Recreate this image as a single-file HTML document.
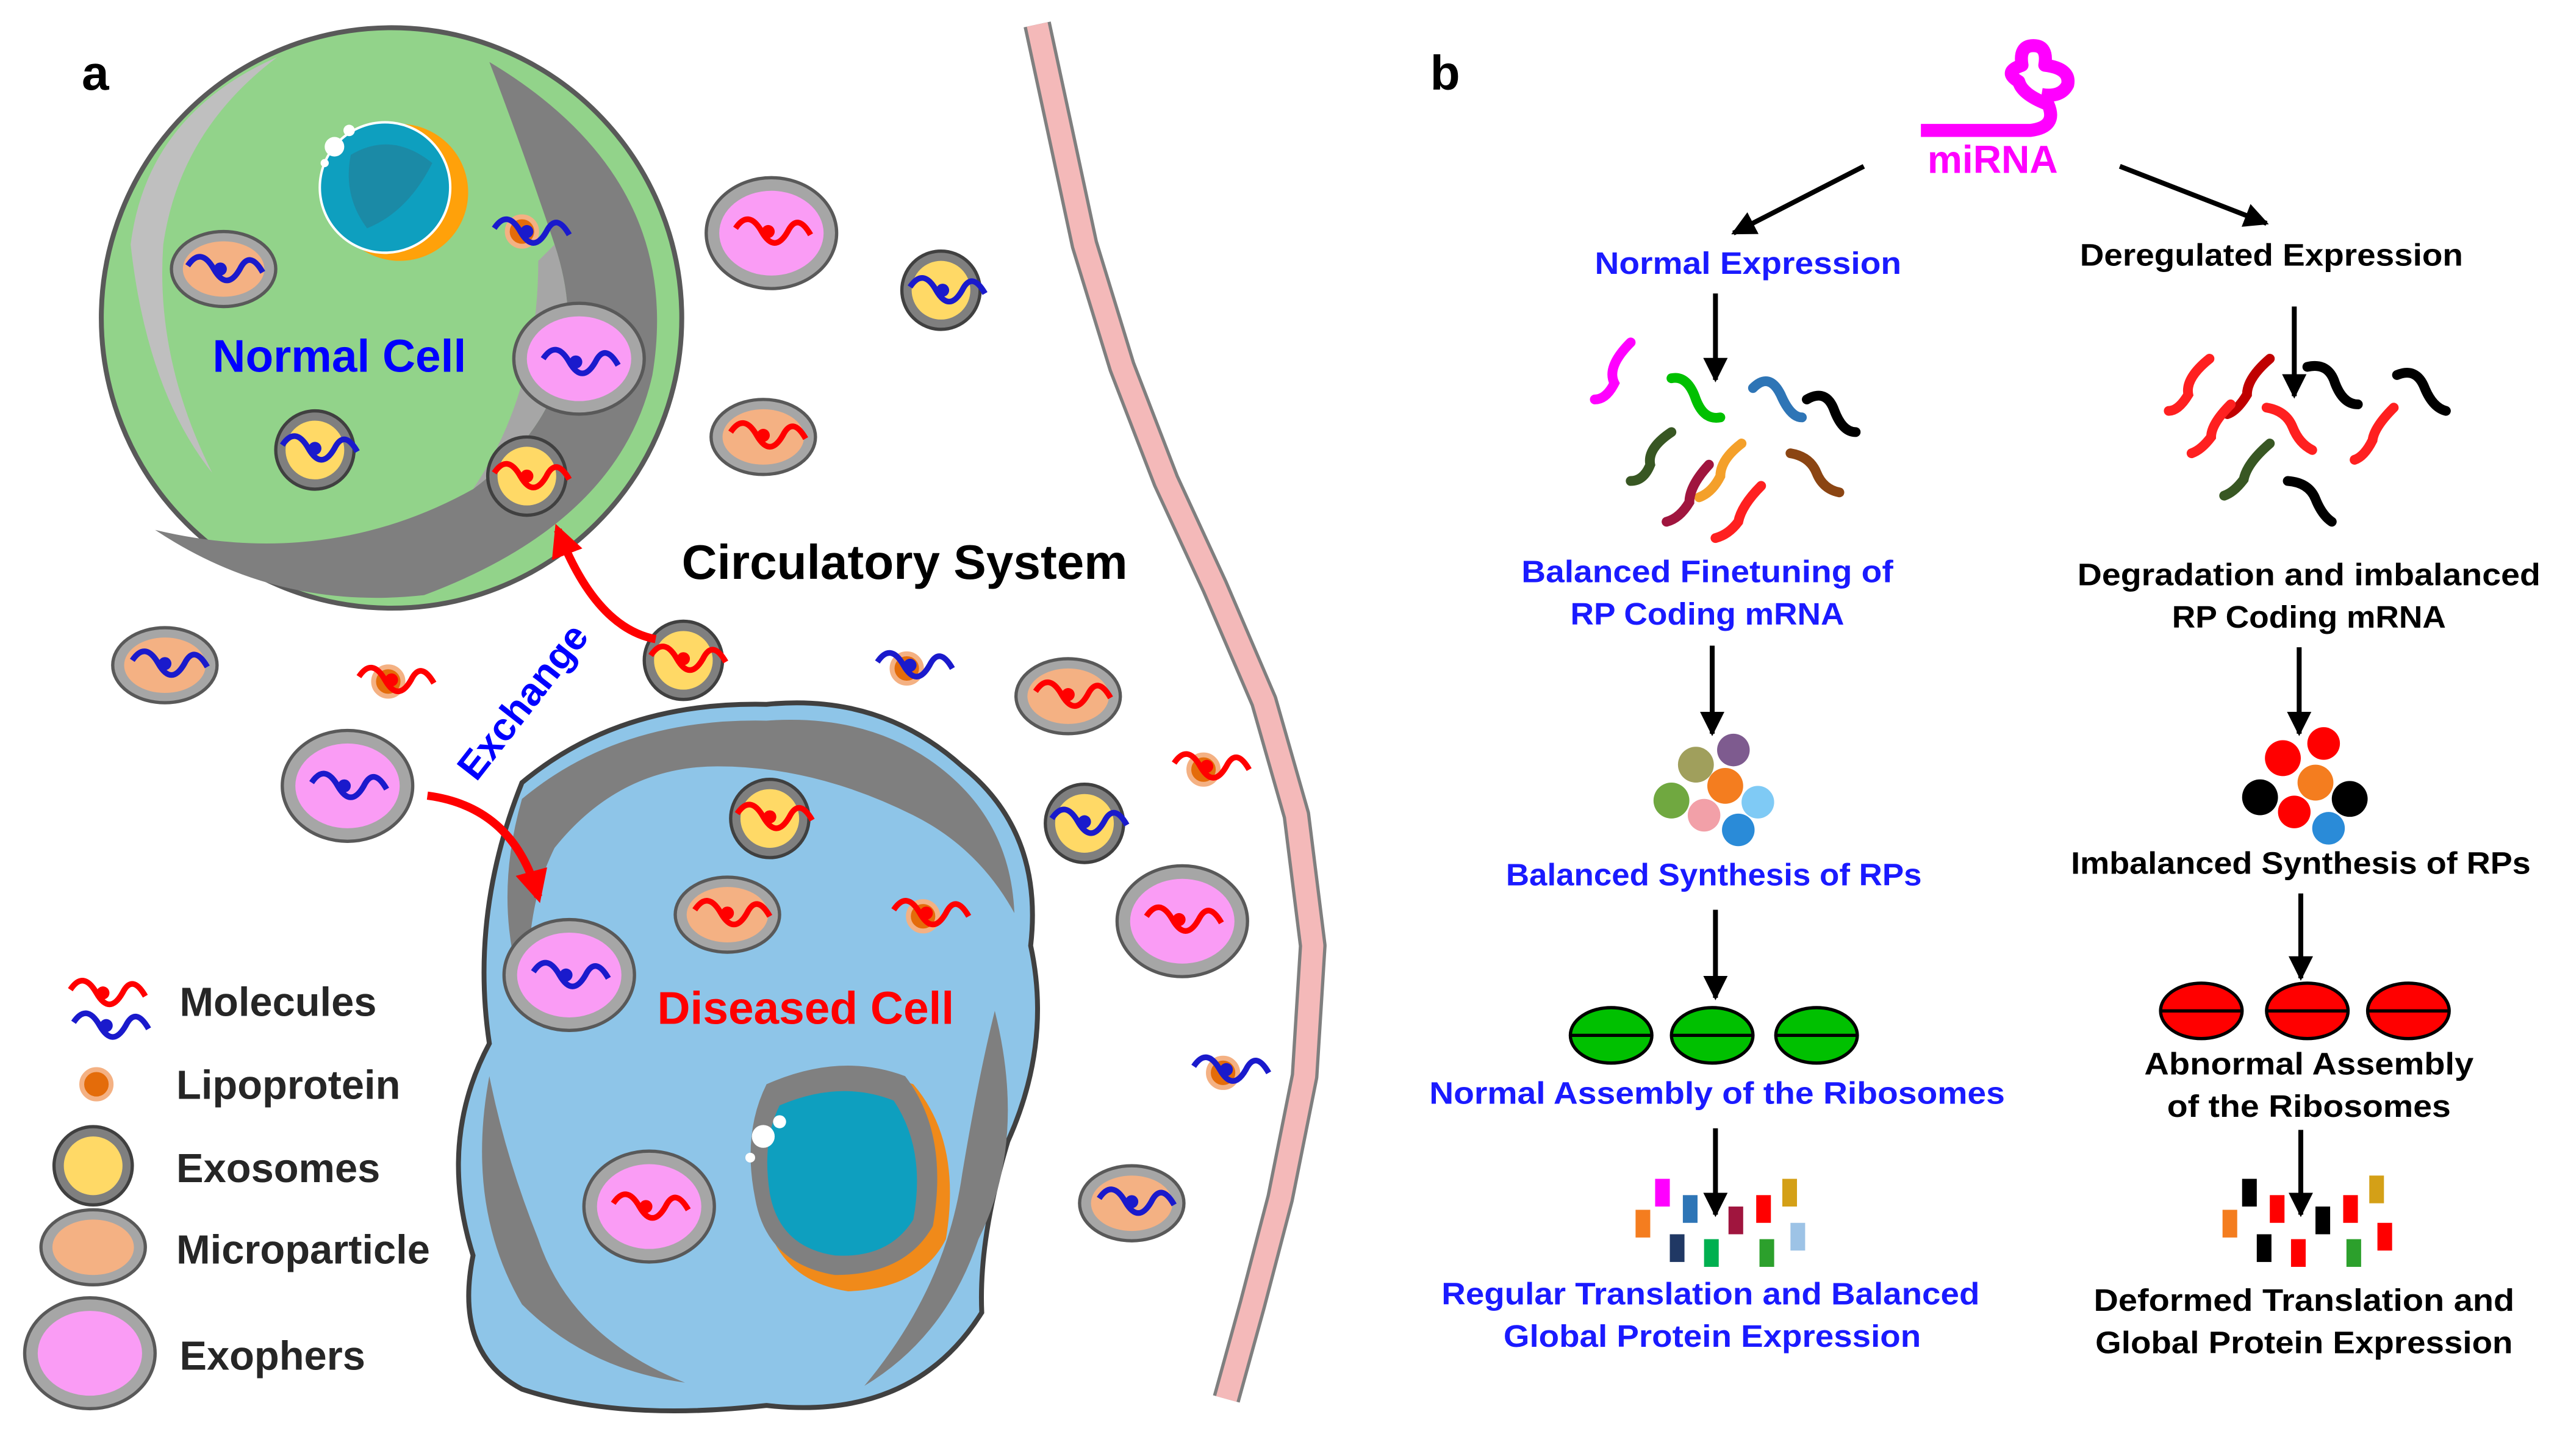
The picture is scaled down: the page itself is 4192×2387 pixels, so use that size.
<!DOCTYPE html>
<html><head><meta charset="utf-8"><style>
html,body{margin:0;padding:0;background:#fff}
svg{display:block}
text{font-family:"Liberation Sans",sans-serif;font-weight:bold}
</style></head><body>
<svg width="4192" height="2387" viewBox="0 0 1568 893" xmlns="http://www.w3.org/2000/svg">
<defs>
<marker id="ah" viewBox="0 0 10 10" refX="9" refY="5" markerWidth="5" markerHeight="5" orient="auto"><path d="M0,0 L10,5 L0,10 Z" fill="#000"/></marker>
<marker id="ahr" viewBox="0 0 10 10" refX="8" refY="5" markerWidth="4" markerHeight="4" orient="auto"><path d="M0,0 L10,5 L0,10 Z" fill="#ff0000"/></marker>
<g id="molB"><path d="M-22,0 Q-14,-12 -6,2 Q2,16 10,2 Q16,-10 24,4" fill="none" stroke="#1a1acc" stroke-width="3.5"/><circle cx="-2" cy="2" r="4" fill="#1a1acc"/></g>
<g id="molR"><path d="M-22,0 Q-14,-12 -6,2 Q2,16 10,2 Q16,-10 24,4" fill="none" stroke="#f00" stroke-width="3.5"/><circle cx="-2" cy="2" r="4" fill="#f00"/></g>
<g id="lip"><circle r="9" fill="#e46c0a" stroke="#f4b183" stroke-width="3"/></g>
<g id="exoph"><ellipse rx="40" ry="34" fill="#a6a6a6" stroke="#595959" stroke-width="2"/><ellipse rx="32" ry="26" fill="#fa9cf5"/></g>
<g id="micro"><ellipse rx="32" ry="23" fill="#a6a6a6" stroke="#595959" stroke-width="2"/><ellipse rx="25" ry="17" fill="#f4b183"/></g>
<g id="exos"><circle r="24" fill="#7f7f7f" stroke="#404040" stroke-width="2"/><circle r="18" fill="#ffd966"/></g>
</defs>

<text x="50" y="55" font-size="30" fill="#000">a</text>

<path d="M636,15 L650,80 L665,150 L688,225 L715,295 L745,360 L775,430 L795,500 L805,580 L800,660 L785,735 L768,800 L752,858" fill="none" stroke="#7f7f7f" stroke-width="17" stroke-linejoin="round"/>
<path d="M636,15 L650,80 L665,150 L688,225 L715,295 L745,360 L775,430 L795,500 L805,580 L800,660 L785,735 L768,800 L752,858" fill="none" stroke="#f4b9b9" stroke-width="13" stroke-linejoin="round"/>

<circle cx="240" cy="195" r="178" fill="#92d38a" stroke="#595959" stroke-width="3"/>
<path d="M80,150 Q90,70 170,35 Q110,80 100,150 Q95,220 130,290 Q90,240 80,150Z" fill="#bfbfbf"/>
<path d="M300,38 Q420,110 400,230 Q380,320 260,365 Q170,375 95,325 Q200,350 290,300 Q370,240 340,150 Q320,90 300,38Z" fill="#7f7f7f"/>
<path d="M340,150 Q370,240 290,300 Q330,240 330,160Z" fill="#a6a6a6"/>
<circle cx="245" cy="118" r="42" fill="#ffa10a"/>
<circle cx="236" cy="115" r="40" fill="#0e9fbf" stroke="#fff" stroke-width="1.5"/>
<path d="M215,95 Q240,80 265,100 Q250,130 225,140 Q210,120 215,95Z" fill="#1b8aa6"/>
<circle cx="205" cy="90" r="6" fill="#fff"/><circle cx="214" cy="80" r="3.5" fill="#fff"/><circle cx="199" cy="100" r="2.5" fill="#fff"/>
<text x="208" y="228" font-size="28" fill="#0000ff" text-anchor="middle">Normal Cell</text>
<use href="#micro" x="137" y="165"/><use href="#molB" x="137" y="163"/>
<use href="#lip" x="320" y="142"/><use href="#molB" x="325" y="140"/>
<use href="#exoph" x="355" y="220"/><use href="#molB" x="355" y="220"/>
<use href="#exos" x="193" y="276"/><use href="#molB" x="195" y="273"/>
<use href="#exos" x="323" y="292"/><use href="#molR" x="325" y="290"/>

<use href="#exoph" x="473" y="143"/><use href="#molR" x="473" y="140"/>
<use href="#exos" x="577" y="178"/><use href="#molB" x="580" y="176"/>
<use href="#micro" x="468" y="268"/><use href="#molR" x="470" y="265"/>
<use href="#micro" x="101" y="408"/><use href="#molB" x="103" y="405"/>
<use href="#lip" x="238" y="418"/><use href="#molR" x="242" y="415"/>
<use href="#exos" x="419" y="405"/><use href="#molR" x="421" y="402"/>
<use href="#lip" x="556" y="410"/><use href="#molB" x="560" y="406"/>
<use href="#micro" x="655" y="427"/><use href="#molR" x="657" y="424"/>
<use href="#lip" x="738" y="472"/><use href="#molR" x="742" y="468"/>
<use href="#exoph" x="213" y="482"/><use href="#molB" x="213" y="480"/>
<use href="#exos" x="665" y="505"/><use href="#molB" x="667" y="502"/>
<use href="#exoph" x="725" y="565"/><use href="#molR" x="725" y="562"/>
<use href="#lip" x="750" y="658"/><use href="#molB" x="754" y="654"/>
<use href="#micro" x="694" y="738"/><use href="#molB" x="696" y="735"/>

<text x="418" y="355" font-size="30" fill="#000">Circulatory System</text>

<path d="M320,480 Q380,430 470,432 Q540,425 590,470 Q640,510 632,580 Q645,640 618,700 Q600,760 602,805 Q560,872 470,862 Q380,872 320,852 Q278,830 290,770 Q268,700 300,640 Q288,560 320,480Z" fill="#8ec5e8" stroke="#404040" stroke-width="3"/>
<path d="M320,490 Q380,440 470,442 Q540,437 585,478 Q620,510 622,560 Q600,520 560,500 Q500,470 440,470 Q380,470 340,520 Q320,560 325,620 Q300,560 320,490Z" fill="#7f7f7f"/>
<path d="M610,620 Q630,700 600,760 Q580,820 530,850 Q580,790 590,720 Q600,660 610,620Z" fill="#7f7f7f"/>
<path d="M300,660 Q285,740 320,800 Q360,840 420,848 Q350,820 330,760 Q310,710 300,660Z" fill="#7f7f7f"/>
<path d="M475,670 Q520,650 560,665 Q590,700 580,760 Q565,790 520,792 Q475,785 468,740 Q460,700 475,670Z" fill="#f08a1a"/>
<path d="M470,665 Q515,645 555,660 Q582,695 572,752 Q555,782 512,782 Q470,775 463,735 Q455,695 470,665Z" fill="#808080"/>
<path d="M478,678 Q515,662 548,675 Q568,705 560,748 Q545,772 512,770 Q478,765 472,732 Q467,700 478,678Z" fill="#0e9fbf"/>
<circle cx="468" cy="697" r="7" fill="#fff"/><circle cx="478" cy="688" r="4" fill="#fff"/><circle cx="460" cy="710" r="3" fill="#fff"/>
<text x="494" y="628" font-size="28" fill="#ff0000" text-anchor="middle">Diseased Cell</text>
<use href="#exos" x="472" y="502"/><use href="#molR" x="474" y="499"/>
<use href="#micro" x="446" y="561"/><use href="#molR" x="448" y="558"/>
<use href="#lip" x="566" y="562"/><use href="#molR" x="570" y="558"/>
<use href="#exoph" x="349" y="598"/><use href="#molB" x="349" y="596"/>
<use href="#exoph" x="398" y="740"/><use href="#molR" x="398" y="738"/>

<path d="M402,392 Q365,385 342,325" fill="none" stroke="#ff0000" stroke-width="5" marker-end="url(#ahr)"/>
<path d="M262,488 Q315,495 330,550" fill="none" stroke="#ff0000" stroke-width="5" marker-end="url(#ahr)"/>
<text transform="translate(292,480) rotate(-52)" font-size="24" fill="#0000ff">Exchange</text>

<use href="#molR" x="65" y="607"/><use href="#molB" x="67" y="627"/>
<use href="#lip" x="59" y="665"/>
<use href="#exos" x="57" y="715"/>
<use href="#micro" x="57" y="765"/>
<use href="#exoph" x="55" y="830"/>
<g font-size="25" fill="#262626">
<text x="110" y="623">Molecules</text>
<text x="108" y="674">Lipoprotein</text>
<text x="108" y="725">Exosomes</text>
<text x="108" y="775">Microparticle</text>
<text x="110" y="840">Exophers</text>
</g>

<text x="877" y="55" font-size="30" fill="#000">b</text>
<path d="M1178,80 L1245,80 Q1262,78 1256,64 Q1240,58 1238,50 Q1228,44 1240,40 Q1238,28 1247,28 Q1256,28 1254,40 Q1270,42 1268,52 Q1264,60 1252,58" fill="none" stroke="#ff00ff" stroke-width="8" stroke-linejoin="round"/>
<text x="1222" y="106" font-size="24" fill="#ff00ff" text-anchor="middle">miRNA</text>
<g stroke="#000" stroke-width="3" marker-end="url(#ah)">
<line x1="1143" y1="102" x2="1063" y2="143"/>
<line x1="1300" y1="102" x2="1390" y2="137"/>
<line x1="1052" y1="180" x2="1052" y2="233"/>
<line x1="1050" y1="396" x2="1050" y2="450"/>
<line x1="1052" y1="558" x2="1052" y2="612"/>
<line x1="1052" y1="692" x2="1052" y2="745"/>
<line x1="1407" y1="188" x2="1407" y2="243"/>
<line x1="1410" y1="397" x2="1410" y2="450"/>
<line x1="1411" y1="548" x2="1411" y2="600"/>
<line x1="1411" y1="693" x2="1411" y2="745"/>
</g>
<g font-size="19" fill="#1a1aff" text-anchor="middle">
<text x="1072" y="168" textLength="188" lengthAdjust="spacingAndGlyphs">Normal Expression</text>
<text x="1047" y="357" textLength="228" lengthAdjust="spacingAndGlyphs">Balanced Finetuning of</text>
<text x="1047" y="383" textLength="168" lengthAdjust="spacingAndGlyphs">RP Coding mRNA</text>
<text x="1051" y="543" textLength="255" lengthAdjust="spacingAndGlyphs">Balanced Synthesis of RPs</text>
<text x="1053" y="677" textLength="353" lengthAdjust="spacingAndGlyphs">Normal Assembly of the Ribosomes</text>
<text x="1049" y="800" textLength="330" lengthAdjust="spacingAndGlyphs">Regular Translation and Balanced</text>
<text x="1050" y="826" textLength="256" lengthAdjust="spacingAndGlyphs">Global Protein Expression</text>
</g>
<g font-size="19" fill="#000" text-anchor="middle">
<text x="1393" y="163" textLength="235" lengthAdjust="spacingAndGlyphs">Deregulated Expression</text>
<text x="1416" y="359" textLength="284" lengthAdjust="spacingAndGlyphs">Degradation and imbalanced</text>
<text x="1416" y="385" textLength="168" lengthAdjust="spacingAndGlyphs">RP Coding mRNA</text>
<text x="1411" y="536" textLength="282" lengthAdjust="spacingAndGlyphs">Imbalanced Synthesis of RPs</text>
<text x="1416" y="659" textLength="202" lengthAdjust="spacingAndGlyphs">Abnormal Assembly</text>
<text x="1416" y="685" textLength="174" lengthAdjust="spacingAndGlyphs">of the Ribosomes</text>
<text x="1413" y="804" textLength="258" lengthAdjust="spacingAndGlyphs">Deformed Translation and</text>
<text x="1413" y="830" textLength="256" lengthAdjust="spacingAndGlyphs">Global Protein Expression</text>
</g>

<g fill="none" stroke-width="6" stroke-linecap="round">
<path d="M1000,210 Q985,225 990,235 Q985,245 978,245" stroke="#ff00ff"/>
<path d="M1025,232 Q1035,230 1040,245 Q1045,258 1055,256" stroke="#00c000"/>
<path d="M1075,238 Q1085,228 1092,242 Q1098,256 1105,256" stroke="#2e75b6"/>
<path d="M1108,245 Q1120,238 1125,252 Q1130,265 1138,265" stroke="#000"/>
<path d="M1025,265 Q1010,275 1012,285 Q1008,295 1000,295" stroke="#385723"/>
<path d="M1068,272 Q1055,282 1055,292 Q1050,302 1042,305" stroke="#f4a02a"/>
<path d="M1048,285 Q1036,298 1036,308 Q1030,318 1022,320" stroke="#a0153e"/>
<path d="M1098,278 Q1110,280 1114,290 Q1118,300 1128,302" stroke="#8b4513"/>
<path d="M1080,298 Q1068,310 1066,320 Q1060,328 1052,330" stroke="#ff2020"/>
<path d="M1355,220 Q1340,232 1342,242 Q1336,252 1330,252" stroke="#ff2020"/>
<path d="M1392,220 Q1378,232 1378,242 Q1372,252 1366,254" stroke="#c00000"/>
<path d="M1415,225 Q1428,222 1432,235 Q1437,248 1446,248" stroke="#000"/>
<path d="M1470,230 Q1482,225 1487,238 Q1492,250 1500,252" stroke="#000"/>
<path d="M1368,248 Q1356,260 1356,268 Q1350,276 1344,278" stroke="#ff2020"/>
<path d="M1390,250 Q1402,252 1406,262 Q1410,272 1418,276" stroke="#ff2020"/>
<path d="M1468,250 Q1456,262 1455,270 Q1450,280 1444,282" stroke="#ff2020"/>
<path d="M1392,272 Q1378,284 1376,294 Q1370,302 1364,304" stroke="#385723"/>
<path d="M1403,295 Q1416,296 1420,306 Q1424,316 1430,320" stroke="#000"/>
</g>

<circle cx="1040" cy="469" r="11" fill="#a09f5c"/><circle cx="1063" cy="460" r="10" fill="#7e5b8f"/>
<circle cx="1025" cy="491" r="11" fill="#70a840"/><circle cx="1058" cy="482" r="11" fill="#f47d1f"/>
<circle cx="1078" cy="492" r="10" fill="#7fcaf5"/><circle cx="1045" cy="500" r="10" fill="#f2a0a8"/>
<circle cx="1066" cy="509" r="10" fill="#2a8bd8"/>
<circle cx="1400" cy="465" r="11" fill="#ff0000"/><circle cx="1425" cy="456" r="10" fill="#ff0000"/>
<circle cx="1386" cy="489" r="11" fill="#000"/><circle cx="1420" cy="480" r="11" fill="#f47d1f"/>
<circle cx="1441" cy="490" r="11" fill="#000"/><circle cx="1407" cy="498" r="10" fill="#ff0000"/>
<circle cx="1428" cy="508" r="10" fill="#2a8bd8"/>

<g stroke="#000" stroke-width="2">
<ellipse cx="988" cy="635" rx="25" ry="17" fill="#00c000"/><ellipse cx="1050" cy="635" rx="25" ry="17" fill="#00c000"/><ellipse cx="1114" cy="635" rx="25" ry="17" fill="#00c000"/>
<ellipse cx="1350" cy="620" rx="25" ry="17" fill="#f00"/><ellipse cx="1415" cy="620" rx="25" ry="17" fill="#f00"/><ellipse cx="1477" cy="620" rx="25" ry="17" fill="#f00"/>
<line x1="963" y1="635" x2="1013" y2="635"/><line x1="1025" y1="635" x2="1075" y2="635"/><line x1="1089" y1="635" x2="1139" y2="635"/>
<line x1="1325" y1="620" x2="1375" y2="620"/><line x1="1390" y1="620" x2="1440" y2="620"/><line x1="1452" y1="620" x2="1502" y2="620"/>
</g>

<g>
<rect x="1015" y="723" width="9" height="17" fill="#ff00ff"/><rect x="1032" y="733" width="9" height="17" fill="#2e75b6"/>
<rect x="1003" y="742" width="9" height="17" fill="#f47d1f"/><rect x="1060" y="740" width="9" height="17" fill="#a0153e"/>
<rect x="1077" y="733" width="9" height="17" fill="#ff0000"/><rect x="1093" y="723" width="9" height="17" fill="#d4a017"/>
<rect x="1024" y="757" width="9" height="17" fill="#203864"/><rect x="1045" y="760" width="9" height="17" fill="#00b050"/>
<rect x="1079" y="760" width="9" height="17" fill="#2ca02c"/><rect x="1098" y="750" width="9" height="17" fill="#9dc3e6"/>
<rect x="1375" y="723" width="9" height="17" fill="#000"/><rect x="1392" y="733" width="9" height="17" fill="#ff0000"/>
<rect x="1363" y="742" width="9" height="17" fill="#f47d1f"/><rect x="1420" y="740" width="9" height="17" fill="#000"/>
<rect x="1437" y="733" width="9" height="17" fill="#ff0000"/><rect x="1453" y="721" width="9" height="17" fill="#d4a017"/>
<rect x="1384" y="757" width="9" height="17" fill="#000"/><rect x="1405" y="760" width="9" height="17" fill="#ff0000"/>
<rect x="1439" y="760" width="9" height="17" fill="#2ca02c"/><rect x="1458" y="750" width="9" height="17" fill="#ff0000"/>
</g>
</svg>
</body></html>
